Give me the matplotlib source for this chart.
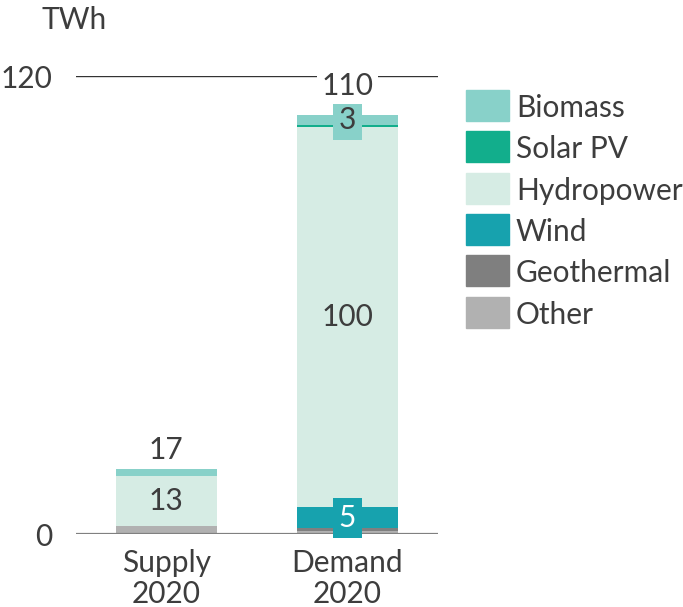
import matplotlib.pyplot as plt
from matplotlib.patches import Rectangle

plt.rcParams['font.family'] = ['Lato', 'DejaVu Sans']

categories = ['Supply\n2020', 'Demand\n2020']
sources = ['Other', 'Geothermal', 'Wind', 'Hydropower', 'Solar PV', 'Biomass']
colors = {
    'Other': '#b1b1b1',
    'Geothermal': '#7f7f7f',
    'Wind': '#17a2ae',
    'Hydropower': '#d6ece4',
    'Solar PV': '#12ae8c',
    'Biomass': '#88d1c9',
}
values = {
    'Other': [2.0, 0.9],
    'Geothermal': [0.0, 0.6],
    'Wind': [0.0, 5.6],
    'Hydropower': [13.3, 99.7],
    'Solar PV': [0.0, 0.5],
    'Biomass': [1.7, 2.6],
}
totals = [17, 110]
seg_labels = {  # (source, bar index) -> shown label
    ('Hydropower', 0): '13',
    ('Hydropower', 1): '100',
    ('Biomass', 1): '3',
    ('Wind', 1): '5',
}
legend_order = ['Biomass', 'Solar PV', 'Hydropower', 'Wind', 'Geothermal', 'Other']

text_col = '#3d3d3d'
fs = 21.5

W, H = 683, 607
fig = plt.figure(figsize=(W / 100, H / 100), dpi=100)
ax = fig.add_axes([75.7 / W, (H - 534) / H, (438 - 75.7) / W, (534 - 76.3) / H])

x = [0, 1]
bottoms = [0.0, 0.0]
for src in sources:
    vals = values[src]
    ax.bar(x, vals, width=0.558, bottom=bottoms, color=colors[src], linewidth=0, zorder=2)
    for i in x:
        key = (src, i)
        if key in seg_labels:
            yc = bottoms[i] + vals[i] / 2
            if src in ('Biomass', 'Wind'):
                tc = text_col if src == 'Biomass' else 'white'
                ax.text(i, yc, seg_labels[key], ha='center', va='center', fontsize=fs, color=tc,
                        zorder=4, bbox=dict(boxstyle='square,pad=0.2', fc=colors[src], ec='none'))
            else:
                ax.text(i, yc, seg_labels[key], ha='center', va='center', fontsize=fs,
                        color=text_col, zorder=4)
    bottoms = [b + v for b, v in zip(bottoms, vals)]

offsets = [7.4, 14.6]
for i in x:
    ax.annotate(str(totals[i]), (i, bottoms[i]), xytext=(0, offsets[i]), textcoords='offset points',
                ha='center', va='baseline', fontsize=fs, color=text_col, zorder=4,
                bbox=dict(boxstyle='square,pad=0.15', fc='white', ec='none'))

ax.set_xlim(-0.5, 1.5)
ax.set_ylim(0, 120)
ax.axhline(120, color='#333333', lw=1.0, zorder=1)
ax.axhline(0, color='#808080', lw=1.6, zorder=3)
for s in ax.spines.values():
    s.set_visible(False)
ax.set_yticks([0, 120])
ax.set_xticks(x)
ax.set_xticklabels(categories, linespacing=1.14)
ax.tick_params(axis='both', length=0, labelsize=fs, labelcolor=text_col)
ax.tick_params(axis='y', pad=16.5)
ax.tick_params(axis='x', pad=10.5)

fig.text(42 / W, 1 - 29.3 / H, 'TWh', fontsize=fs, color=text_col, va='baseline', ha='left')

# legend
for k, name in enumerate(legend_order):
    top = 90 + k * 41.3
    fig.patches.append(Rectangle((466 / W, 1 - (top + 31) / H), 43 / W, 31 / H,
                                 transform=fig.transFigure, color=colors[name]))
    fig.text(516 / W, 1 - (top + 15.5) / H, name, fontsize=fs, color=text_col,
             va='center_baseline', ha='left')

fig.savefig('out.png', dpi=100)
